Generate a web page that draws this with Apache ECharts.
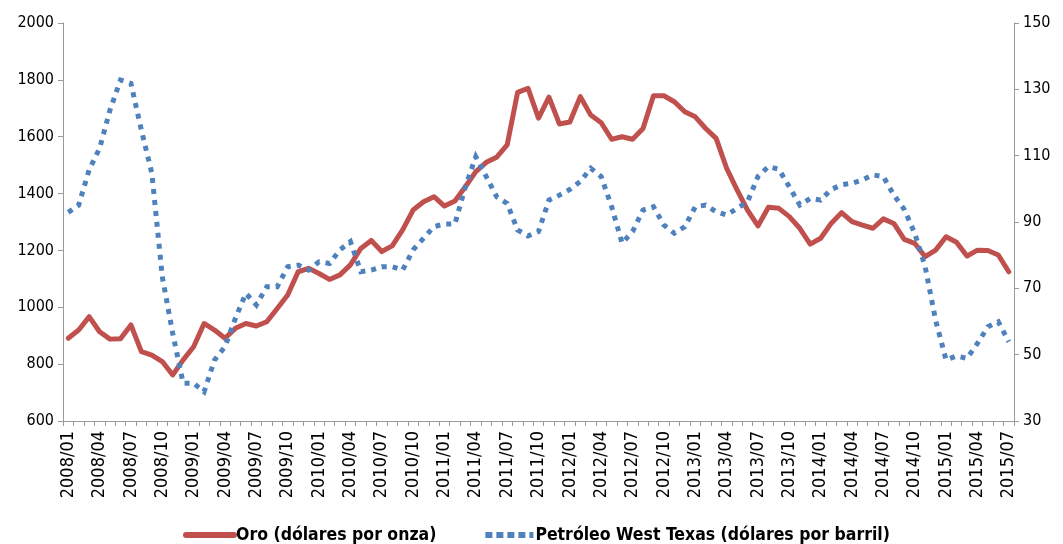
<!DOCTYPE html>
<html>
<head>
<meta charset="utf-8">
<script src="https://cdn.jsdelivr.net/npm/echarts@6/dist/echarts.min.js"></script>
<style>
  html, body { margin: 0; padding: 0; background: #fff; }
  #chart { width: 1063px; height: 544px; }
</style>
</head>
<body>
<div id="chart"></div>
<script>
const months = [
  '2008/01','2008/02','2008/03','2008/04','2008/05','2008/06','2008/07','2008/08','2008/09','2008/10','2008/11','2008/12',
  '2009/01','2009/02','2009/03','2009/04','2009/05','2009/06','2009/07','2009/08','2009/09','2009/10','2009/11','2009/12',
  '2010/01','2010/02','2010/03','2010/04','2010/05','2010/06','2010/07','2010/08','2010/09','2010/10','2010/11','2010/12',
  '2011/01','2011/02','2011/03','2011/04','2011/05','2011/06','2011/07','2011/08','2011/09','2011/10','2011/11','2011/12',
  '2012/01','2012/02','2012/03','2012/04','2012/05','2012/06','2012/07','2012/08','2012/09','2012/10','2012/11','2012/12',
  '2013/01','2013/02','2013/03','2013/04','2013/05','2013/06','2013/07','2013/08','2013/09','2013/10','2013/11','2013/12',
  '2014/01','2014/02','2014/03','2014/04','2014/05','2014/06','2014/07','2014/08','2014/09','2014/10','2014/11','2014/12',
  '2015/01','2015/02','2015/03','2015/04','2015/05','2015/06','2015/07'
];

// oro, dolares por onza (eje izquierdo)
const gold = [
  891, 920, 967, 914, 888, 889, 938, 844, 832, 809, 762, 815,
  861, 943, 920, 891, 926, 943, 934, 949, 996, 1043, 1125, 1137,
  1119, 1098, 1114, 1149, 1207, 1235, 1196, 1216, 1272, 1342, 1371, 1389,
  1356, 1374, 1424, 1477, 1510, 1528, 1571, 1756, 1770, 1665, 1739, 1645,
  1652, 1741, 1676, 1649, 1591, 1600, 1591, 1629, 1744, 1744, 1723, 1688,
  1670, 1629, 1594, 1489, 1413, 1342, 1286, 1352, 1348, 1319, 1278, 1222,
  1243, 1295, 1333, 1301, 1289, 1278, 1311, 1295, 1239, 1225, 1178, 1201,
  1248, 1229, 1180, 1201, 1200, 1184, 1125
];

// petroleo WTI, dolares por barril (eje derecho)
const oil = [
  92.9, 95.1, 105.7, 112.2, 123.8, 132.8, 131.8, 117.7, 104.7, 73.5, 56.4, 41.4,
  41.4, 38.8, 48.4, 52.4, 61.0, 68.5, 65.0, 70.5, 70.5, 76.5, 77.0, 75.5,
  78.0, 77.5, 81.6, 84.1, 75.0, 75.5, 76.5, 76.5, 75.5, 81.6, 85.1, 88.6,
  89.4, 89.4, 100.6, 109.7, 103.7, 97.6, 95.6, 87.6, 85.8, 87.1, 96.6, 98.1,
  99.8, 102.2, 106.2, 103.7, 94.6, 83.6, 87.1, 93.6, 94.6, 89.1, 86.6, 88.6,
  94.6, 95.1, 93.1, 92.1, 94.1, 96.1, 103.7, 106.7, 105.9, 100.6, 95.1, 97.1,
  96.6, 99.8, 101.2, 101.7, 102.7, 104.2, 103.7, 98.1, 93.8, 86.6, 76.5, 60.4,
  48.4, 49.6, 48.9, 53.4, 58.4, 59.9, 53.9
];

const goldName = 'Oro (dólares por onza)';
const oilName = 'Petróleo West Texas (dólares por barril)';

const font = "'DejaVu Sans Condensed', 'Liberation Sans', sans-serif";
const axisColor = '#9a9a9a';
const red = '#C0504D';
const blue = '#4F81BD';

const chart = echarts.init(document.getElementById('chart'), null, { renderer: 'canvas' });

const yAxisBase = {
  type: 'value',
  splitLine: { show: false },
  axisLine: { show: true, lineStyle: { color: axisColor, width: 1 } },
  axisTick: { show: true, length: 5, lineStyle: { color: axisColor } },
  axisLabel: { color: '#000', fontSize: 16, fontFamily: font, margin: 9, formatter: v => String(v) }
};

chart.setOption({
  animation: false,
  backgroundColor: '#fff',
  grid: { left: 63, right: 49, top: 23, bottom: 123 },
  legend: {
    data: [
      { name: goldName, lineStyle: { width: 6, color: red } },
      { name: oilName, lineStyle: { width: 6, color: blue, type: [7, 4] } }
    ],
    top: 526,
    left: 183,
    padding: 0,
    itemWidth: 48,
    itemHeight: 14,
    itemGap: 46,
    itemStyle: { opacity: 0 },
    textStyle: { color: '#000', fontSize: 17.5, fontWeight: 'bold', fontFamily: font, padding: [0, 0, 0, -3] }
  },
  xAxis: {
    type: 'category',
    data: months,
    boundaryGap: true,
    axisLine: { lineStyle: { color: axisColor, width: 1 } },
    axisTick: { show: true, interval: 0, length: 5, lineStyle: { color: axisColor } },
    axisLabel: {
      interval: 2,
      rotate: 90,
      color: '#000',
      fontSize: 18,
      fontFamily: font,
      margin: 10
    }
  },
  yAxis: [
    Object.assign({}, yAxisBase, { position: 'left', min: 600, max: 2000, interval: 200 }),
    Object.assign({}, yAxisBase, { position: 'right', min: 30, max: 150, interval: 20 })
  ],
  series: [
    {
      name: goldName,
      type: 'line',
      yAxisIndex: 0,
      data: gold,
      symbol: 'none',
      color: red,
      lineStyle: { color: red, width: 5, cap: 'round', join: 'round' }
    },
    {
      name: oilName,
      type: 'line',
      yAxisIndex: 1,
      data: oil,
      symbol: 'none',
      color: blue,
      lineStyle: { color: blue, width: 5, type: [5, 6], cap: 'butt', join: 'miter' }
    }
  ]
});
</script>
</body>
</html>
